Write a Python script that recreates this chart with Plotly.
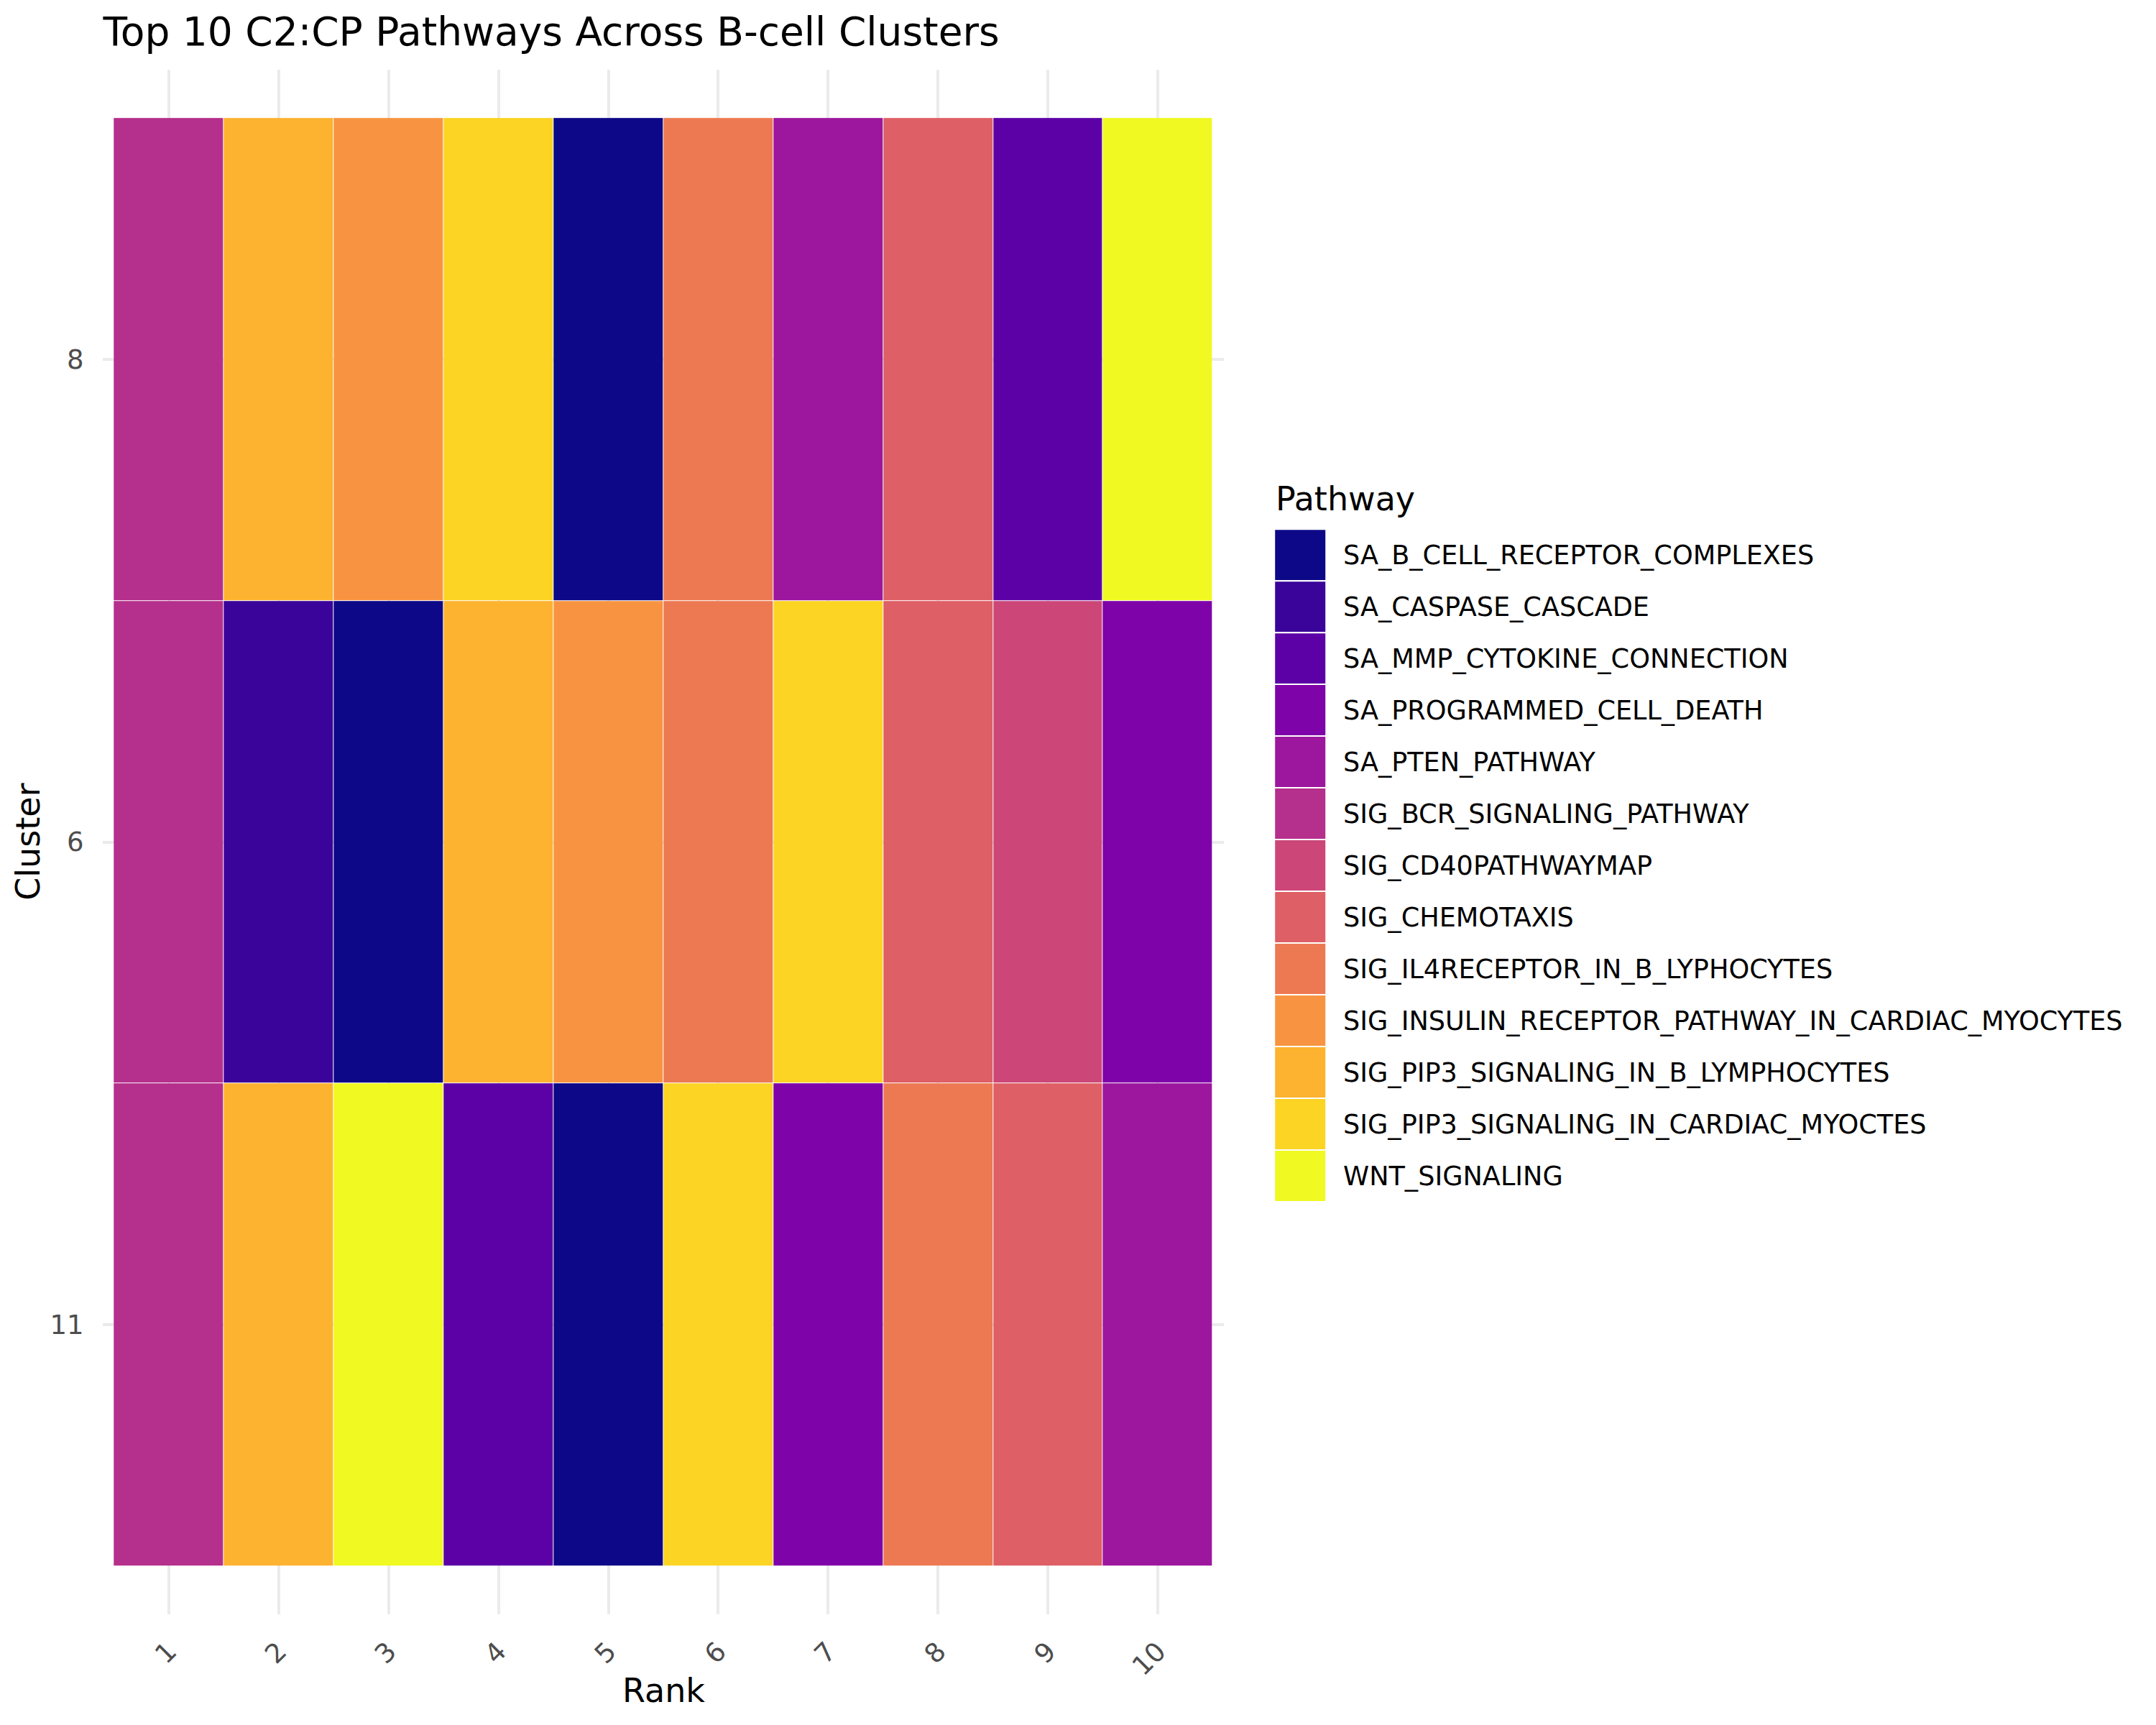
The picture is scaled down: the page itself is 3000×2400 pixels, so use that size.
import plotly.graph_objects as go

# ---------------- data ----------------
pathways = [
    "SA_B_CELL_RECEPTOR_COMPLEXES",
    "SA_CASPASE_CASCADE",
    "SA_MMP_CYTOKINE_CONNECTION",
    "SA_PROGRAMMED_CELL_DEATH",
    "SA_PTEN_PATHWAY",
    "SIG_BCR_SIGNALING_PATHWAY",
    "SIG_CD40PATHWAYMAP",
    "SIG_CHEMOTAXIS",
    "SIG_IL4RECEPTOR_IN_B_LYPHOCYTES",
    "SIG_INSULIN_RECEPTOR_PATHWAY_IN_CARDIAC_MYOCYTES",
    "SIG_PIP3_SIGNALING_IN_B_LYMPHOCYTES",
    "SIG_PIP3_SIGNALING_IN_CARDIAC_MYOCTES",
    "WNT_SIGNALING",
]
pathway_colors = [
    "#0D0887", "#3A049A", "#5C01A6", "#7E03A8", "#9C179E", "#B52F8C", "#CC4778",
    "#DE5F65", "#ED7953", "#F89441", "#FDB32F", "#FBD424", "#F0F921",
]
ranks = [1, 2, 3, 4, 5, 6, 7, 8, 9, 10]
clusters = ["11", "6", "8"]  # bottom to top

cluster_11 = [
    "SIG_BCR_SIGNALING_PATHWAY", "SIG_PIP3_SIGNALING_IN_B_LYMPHOCYTES", "WNT_SIGNALING",
    "SA_MMP_CYTOKINE_CONNECTION", "SA_B_CELL_RECEPTOR_COMPLEXES", "SIG_PIP3_SIGNALING_IN_CARDIAC_MYOCTES",
    "SA_PROGRAMMED_CELL_DEATH", "SIG_IL4RECEPTOR_IN_B_LYPHOCYTES", "SIG_CHEMOTAXIS", "SA_PTEN_PATHWAY",
]
cluster_6 = [
    "SIG_BCR_SIGNALING_PATHWAY", "SA_CASPASE_CASCADE", "SA_B_CELL_RECEPTOR_COMPLEXES",
    "SIG_PIP3_SIGNALING_IN_B_LYMPHOCYTES", "SIG_INSULIN_RECEPTOR_PATHWAY_IN_CARDIAC_MYOCYTES",
    "SIG_IL4RECEPTOR_IN_B_LYPHOCYTES", "SIG_PIP3_SIGNALING_IN_CARDIAC_MYOCTES", "SIG_CHEMOTAXIS",
    "SIG_CD40PATHWAYMAP", "SA_PROGRAMMED_CELL_DEATH",
]
cluster_8 = [
    "SIG_BCR_SIGNALING_PATHWAY", "SIG_PIP3_SIGNALING_IN_B_LYMPHOCYTES",
    "SIG_INSULIN_RECEPTOR_PATHWAY_IN_CARDIAC_MYOCYTES", "SIG_PIP3_SIGNALING_IN_CARDIAC_MYOCTES",
    "SA_B_CELL_RECEPTOR_COMPLEXES", "SIG_IL4RECEPTOR_IN_B_LYPHOCYTES", "SA_PTEN_PATHWAY",
    "SIG_CHEMOTAXIS", "SA_MMP_CYTOKINE_CONNECTION", "WNT_SIGNALING",
]

# ---------------- build ----------------
rows = [cluster_11, cluster_6, cluster_8]
idx = {p: i for i, p in enumerate(pathways)}
z = [[idx[p] for p in r] for r in rows]
text = [[p for p in r] for r in rows]

n = len(pathways)
colorscale = []
for i, c in enumerate(pathway_colors):
    colorscale.append([i / n, c])
    colorscale.append([(i + 1) / n, c])

FONT = "DejaVu Sans"
W, H = 3000, 2400
OFF = 8  # page body margin offset
L, R, T, B = 143.2 - OFF, 1702.8 - OFF, 96.8 - OFF, 2246.0 - OFF


def px(x):
    return (x - OFF - L) / (R - L)


def py(y):
    return (B - (y - OFF)) / (B - T)


fig = go.Figure()
fig.add_trace(go.Heatmap(
    x=ranks, y=clusters, z=z, text=text,
    colorscale=colorscale, zmin=-0.5, zmax=n - 0.5,
    showscale=False, xgap=1, ygap=1,
    hovertemplate="Rank %{x}<br>Cluster %{y}<br>%{text}<extra></extra>",
))

shapes = []
annotations = []
# legend
key_left, key_right = 1773, 1845
key_top0, pitch = 736, 72
for i, (p, c) in enumerate(zip(pathways, pathway_colors)):
    y0 = key_top0 + i * pitch
    shapes.append(dict(type="rect", xref="paper", yref="paper",
                       x0=px(key_left), x1=px(key_right), y0=py(y0 + pitch), y1=py(y0),
                       fillcolor=c, line=dict(color="white", width=2), layer="above"))
    annotations.append(dict(xref="paper", yref="paper", x=px(1867), y=py(y0 + pitch / 2),
                            text=p, showarrow=False, xanchor="left", yanchor="middle",
                            font=dict(family=FONT, size=36.6, color="black")))
annotations.append(dict(xref="paper", yref="paper", x=px(1773), y=py(694),
                        text="Pathway", showarrow=False, xanchor="left", yanchor="middle",
                        font=dict(family=FONT, size=46, color="black")))
# axis titles
annotations.append(dict(xref="paper", yref="paper", x=px(923), y=py(2352),
                        text="Rank", showarrow=False, xanchor="center", yanchor="middle",
                        font=dict(family=FONT, size=46, color="black")))
annotations.append(dict(xref="paper", yref="paper", x=px(39), y=py(1171),
                        text="Cluster", showarrow=False, xanchor="center", yanchor="middle",
                        textangle=-90, font=dict(family=FONT, size=46, color="black")))

fig.update_layout(
    width=W, height=H,
    margin=dict(l=L, r=W - R, t=T, b=H - B, pad=0),
    paper_bgcolor="white", plot_bgcolor="white",
    font=dict(family=FONT),
    title=dict(text="Top 10 C2:CP Pathways Across B-cell Clusters",
               x=(143.5 - OFF) / W, xanchor="left", xref="container",
               y=1 - (44 - OFF) / H, yanchor="middle", yref="container",
               font=dict(family=FONT, size=55, color="black")),
    shapes=shapes, annotations=annotations, showlegend=False,
)
fig.update_xaxes(range=[0.4, 10.6], tickmode="array", tickvals=ranks,
                 ticktext=[str(r) for r in ranks], tickangle=-45,
                 showgrid=True, gridcolor="#EBEBEB", gridwidth=4.4, zeroline=False,
                 showline=False, ticks="outside", ticklen=14, tickcolor="rgba(0,0,0,0)",
                 tickfont=dict(family=FONT, size=37, color="#4D4D4D"))
fig.update_yaxes(type="category", range=[-0.6, 2.6],
                 showgrid=True, gridcolor="#EBEBEB", gridwidth=4.4, zeroline=False,
                 showline=False, ticks="outside", ticklen=18, tickcolor="rgba(0,0,0,0)",
                 tickfont=dict(family=FONT, size=37, color="#4D4D4D"))

fig.write_html("out.html")
